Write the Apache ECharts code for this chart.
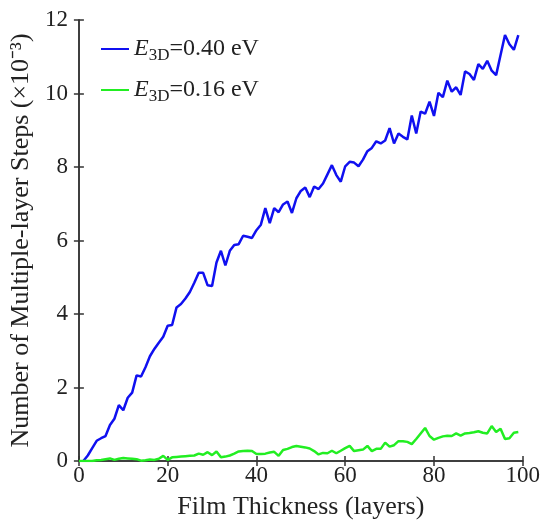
<!DOCTYPE html>
<html lang="en">
<head>
    <meta charset="UTF-8">
    <title>Multiple-layer steps</title>
    <style>
        body { margin: 0; background: #fff; }
        #chart { width: 543px; height: 525px; }
    </style>
</head>
<body>
    <div id="chart"></div>
    <script src="https://cdn.jsdelivr.net/npm/echarts@6/dist/echarts.min.js"></script>
    <script>
        // film thickness in layers (blue starts at 1, green at 0)
        var blueStart = 1;
        var greenStart = 0;
        var xTicks = [0, 20, 40, 60, 80, 100];
        var yTicks = [0, 2, 4, 6, 8, 10, 12];

        // E3D = 0.40 eV, x = 1..99
        var blueSteps = [
            0.00, 0.15, 0.35, 0.55, 0.62, 0.68, 0.98, 1.15, 1.52, 1.38,
            1.72, 1.86, 2.33, 2.30, 2.55, 2.85, 3.05, 3.22, 3.38, 3.68,
            3.70, 4.18, 4.27, 4.42, 4.60, 4.85, 5.12, 5.12, 4.78, 4.76,
            5.40, 5.72, 5.32, 5.72, 5.88, 5.90, 6.13, 6.10, 6.07, 6.28,
            6.43, 6.88, 6.47, 6.88, 6.77, 6.98, 7.06, 6.75, 7.15, 7.35,
            7.44, 7.18, 7.47, 7.40, 7.55, 7.80, 8.05, 7.78, 7.60, 8.02,
            8.14, 8.12, 8.02, 8.20, 8.43, 8.52, 8.70, 8.64, 8.72, 9.06,
            8.64, 8.91, 8.82, 8.75, 9.40, 8.91, 9.51, 9.45, 9.78, 9.39,
            10.02, 9.90, 10.35, 10.05, 10.17, 9.96, 10.60, 10.53, 10.37, 10.80,
            10.67, 10.89, 10.62, 10.50, 11.05, 11.59, 11.34, 11.19, 11.59
        ];

        // E3D = 0.16 eV, x = 0..99
        var greenSteps = [
            0.00, 0.00, 0.00, 0.00, 0.02, 0.03, 0.05, 0.07, 0.03, 0.06,
            0.08, 0.07, 0.06, 0.05, 0.01, 0.02, 0.04, 0.03, 0.06, 0.14,
            0.03, 0.10, 0.11, 0.12, 0.13, 0.14, 0.15, 0.20, 0.17, 0.24,
            0.16, 0.26, 0.10, 0.12, 0.15, 0.20, 0.26, 0.27, 0.28, 0.27,
            0.19, 0.19, 0.20, 0.23, 0.25, 0.14, 0.30, 0.33, 0.38, 0.41,
            0.39, 0.37, 0.34, 0.27, 0.18, 0.22, 0.21, 0.28, 0.21, 0.28,
            0.35, 0.41, 0.27, 0.29, 0.31, 0.41, 0.27, 0.33, 0.33, 0.50,
            0.39, 0.43, 0.54, 0.54, 0.52, 0.46, 0.60, 0.75, 0.90, 0.68,
            0.58, 0.63, 0.67, 0.69, 0.68, 0.75, 0.69, 0.75, 0.76, 0.78,
            0.81, 0.77, 0.75, 0.95, 0.79, 0.88, 0.60, 0.62, 0.77, 0.79
        ];

        function pairs(start, arr) {
            return arr.map(function (v, i) { return [start + i, v]; });
        }

        var font = 'Liberation Serif';
        var axisColor = '#333';

        var chart = echarts.init(document.getElementById('chart'));
        var option = {
            animation: false,
            backgroundColor: '#fff',
            textStyle: { fontFamily: font },
            grid: { left: 78, right: 20, top: 20, bottom: 61 },
            legend: {
                orient: 'vertical',
                left: 96,
                top: 28,
                itemWidth: 28,
                itemHeight: 10,
                itemGap: 10,
                icon: 'path://M0,4 L28,4 L28,6 L0,6 Z',
                formatter: function (name) {
                    return '{i|E}{s|3D}{n|=' + name + ' eV}';
                },
                textStyle: {
                    rich: {
                        i: { fontFamily: font, fontSize: 24, fontStyle: 'italic', color: '#222', lineHeight: 30 },
                        s: { fontFamily: font, fontSize: 17, color: '#222', verticalAlign: 'bottom', lineHeight: 17, padding: [14, 0, 0, 0] },
                        n: { fontFamily: font, fontSize: 24, color: '#222', lineHeight: 30 }
                    }
                },
                data: ['0.40', '0.16']
            },
            xAxis: [{
                type: 'value',
                min: 0, max: 100, interval: 20,
                name: 'Film Thickness (layers)',
                nameLocation: 'middle',
                nameGap: 33,
                nameTextStyle: { fontFamily: font, fontSize: 26, color: '#222' },
                axisLine: { lineStyle: { color: axisColor, width: 1.5 } },
                axisTick: { inside: true, length: 5, lineStyle: { color: axisColor, width: 1.5 } },
                axisLabel: { margin: 3, fontFamily: font, fontSize: 23, color: '#222',
                    customValues: xTicks },
                splitLine: { show: false }
            }, {
                type: 'value',
                position: 'top',
                min: 0, max: 100, interval: 20,
                axisLine: { show: true, lineStyle: { color: axisColor, width: 1.5 } },
                axisTick: { inside: true, length: 5, lineStyle: { color: axisColor, width: 1.5 } },
                axisLabel: { show: false },
                splitLine: { show: false }
            }],
            yAxis: [{
                type: 'value',
                min: 0, max: 12, interval: 2,
                name: 'Number of Multiple-layer Steps (×10⁻³)',
                nameLocation: 'middle',
                nameGap: 44,
                nameTextStyle: { fontFamily: font, fontSize: 26, color: '#222' },
                axisLine: { show: true, lineStyle: { color: axisColor, width: 1.5 } },
                axisTick: { show: true, inside: true, length: 5, lineStyle: { color: axisColor, width: 1.5 } },
                axisLabel: { margin: 11, fontFamily: font, fontSize: 23, color: '#222',
                    customValues: yTicks },
                splitLine: { show: false }
            }, {
                type: 'value',
                position: 'right',
                min: 0, max: 12, interval: 2,
                axisLine: { show: true, lineStyle: { color: axisColor, width: 1.5 } },
                axisTick: { show: true, inside: true, length: 5, lineStyle: { color: axisColor, width: 1.5 } },
                axisLabel: { show: false },
                splitLine: { show: false }
            }],
            series: [{
                name: '0.40',
                type: 'line',
                data: pairs(blueStart, blueSteps),
                showSymbol: false,
                color: '#1010f0',
                lineStyle: { width: 2.5, color: '#1010f0' }
            }, {
                name: '0.16',
                type: 'line',
                data: pairs(greenStart, greenSteps),
                showSymbol: false,
                color: '#22ee22',
                lineStyle: { width: 2.5, color: '#22ee22' }
            }]
        };
        chart.setOption(option);
    </script>
</body>
</html>
